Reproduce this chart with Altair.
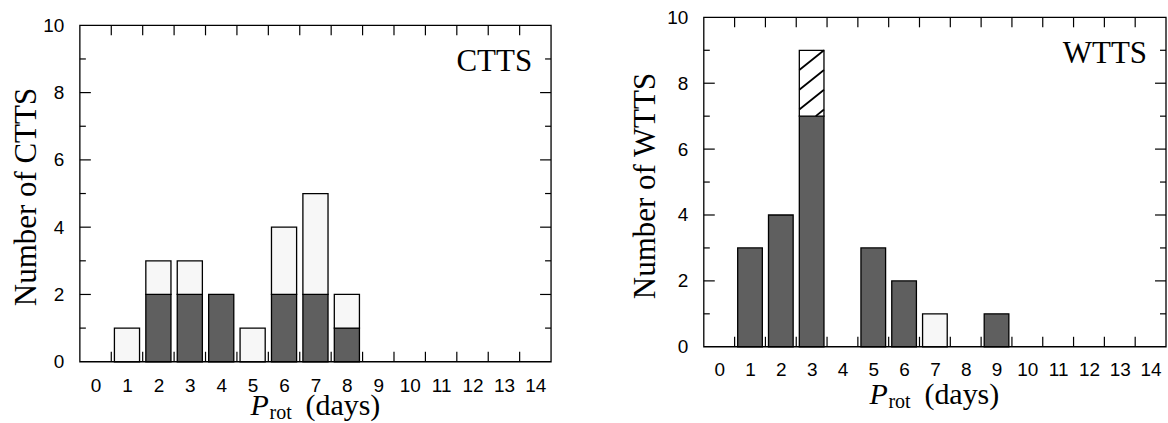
import altair as alt
import pandas as pd

# ---------------- data ----------------
ctts_bins = [1, 2, 3, 4, 5, 6, 7, 8]
ctts_dark = [0, 2, 2, 2, 0, 2, 2, 1]
ctts_light = [1, 1, 1, 0, 1, 2, 3, 1]
ctts_hatched = [0, 0, 0, 0, 0, 0, 0, 0]

wtts_bins = [1, 2, 3, 5, 6, 7, 9]
wtts_dark = [3, 4, 7, 3, 2, 0, 1]
wtts_light = [0, 0, 0, 0, 0, 1, 0]
wtts_hatched = [0, 0, 2, 0, 0, 0, 0]

x_labels = [0, 1, 2, 3, 4, 5, 6, 7, 8, 9, 10, 11, 12, 13, 14]
x_edges = [0.5, 1.5, 2.5, 3.5, 4.5, 5.5, 6.5, 7.5, 8.5, 9.5, 10.5, 11.5, 12.5, 13.5]
y_labels = [0, 2, 4, 6, 8, 10]
y_major = [2, 4, 6, 8]
y_minor = [1, 3, 5, 7, 9]

KINDS = ["dark", "light", "hatched"]
FILLS = ["#5f5f5f", "#f7f7f7", "#ffffff"]
SERIF = "Liberation Serif"
SANS = "Liberation Sans"
LABEL_SIZE = 19


def long_table(bins, dark, light, hatched):
    rows = []
    for b, d, l, h in zip(bins, dark, light, hatched):
        for order, (kind, n) in enumerate(zip(KINDS, (d, l, h))):
            rows.append({"bin": b, "kind": kind, "n": n, "ord": order})
    return pd.DataFrame(rows)


def hatch_table(bins, dark, light, hatched, half=0.4, rise=0.6, step=0.6):
    segs = []
    for b, d, l, h in zip(bins, dark, light, hatched):
        if h <= 0:
            continue
        y0, y1 = d + l, d + l + h
        r = y1
        while r > y0 + 1e-9:
            xl, yl, xr, yr = b - half, r - rise, b + half, r
            if yl < y0:
                xl = xr - (yr - y0) / rise * 2 * half
                yl = y0
            segs.append({"xa": xl, "xb": xr, "ya": yl, "yb": yr})
            r -= step
    return pd.DataFrame(segs)


def panel(bins, dark, light, hatched, name, W, H, off, lab_pad, title_dx, title_y,
          xt_dx, xt_base):
    # off: the plot frame starts `off` pixels below the panel's top
    HT = H + off
    xs = alt.Scale(domain=[-0.5, 14.5], nice=False, zero=False)
    ys = alt.Scale(domain=[0, 10], nice=False, zero=False, range=[HT, off])
    xaxis = alt.Axis(values=x_labels, ticks=False, domain=False, grid=False, title=None,
                     labelPadding=lab_pad, labelFlush=False, labelOverlap=False,
                     format="d", labelFont=SANS, labelFontSize=LABEL_SIZE,
                     labelColor="black")
    yaxis = alt.Axis(values=y_labels, ticks=False, domain=False, grid=False, title=None,
                     labelPadding=16, labelFlush=False, labelOverlap=False,
                     format="d", labelFont=SANS, labelFontSize=LABEL_SIZE,
                     labelColor="black")

    def X(f):
        return alt.X(f, scale=xs, axis=xaxis)

    def Y(f):
        return alt.Y(f, scale=ys, axis=yaxis)

    one = pd.DataFrame({"t": [name]})
    frame = alt.Chart(one).mark_rect(
        fill="transparent", stroke="black", strokeWidth=1.3
    ).encode(x=alt.value(0), x2=alt.value(W), y=alt.value(off), y2=alt.value(HT))

    edges = pd.DataFrame({"v": x_edges})
    top = alt.Chart(edges).mark_rule(color="black", strokeWidth=1.2).encode(
        x=X("v:Q"), y=alt.value(off), y2=alt.value(off + 10))
    bottom = alt.Chart(edges).mark_rule(color="black", strokeWidth=1.2).encode(
        x=X("v:Q"), y=alt.value(HT), y2=alt.value(HT - 10))
    maj = pd.DataFrame({"v": y_major})
    mino = pd.DataFrame({"v": y_minor})
    lmaj = alt.Chart(maj).mark_rule(color="black", strokeWidth=1.2).encode(
        y=Y("v:Q"), x=alt.value(0), x2=alt.value(11))
    lmin = alt.Chart(mino).mark_rule(color="black", strokeWidth=1.2).encode(
        y=Y("v:Q"), x=alt.value(0), x2=alt.value(6))
    rmaj = alt.Chart(maj).mark_rule(color="black", strokeWidth=1.2).encode(
        y=Y("v:Q"), x=alt.value(W), x2=alt.value(W - 11))
    rmin = alt.Chart(mino).mark_rule(color="black", strokeWidth=1.2).encode(
        y=Y("v:Q"), x=alt.value(W), x2=alt.value(W - 6))

    bars = alt.Chart(long_table(bins, dark, light, hatched)).transform_stack(
        stack="n", groupby=["bin"], as_=["y0", "y1"], sort=[alt.SortField("ord")]
    ).transform_filter("datum.n > 0").transform_calculate(
        xa="datum.bin - 0.4", xb="datum.bin + 0.4"
    ).mark_rect(stroke="black", strokeWidth=1.3).encode(
        x=X("xa:Q"), x2="xb:Q", y=Y("y0:Q"), y2="y1:Q",
        color=alt.Color("kind:N", scale=alt.Scale(domain=KINDS, range=FILLS), legend=None),
    )

    layers = [top, bottom, lmaj, lmin, rmaj, rmin, bars]

    hdf = hatch_table(bins, dark, light, hatched)
    if len(hdf):
        layers.append(alt.Chart(hdf).mark_rule(color="black", strokeWidth=1.8).encode(
            x=X("xa:Q"), x2="xb:Q", y=Y("ya:Q"), y2="yb:Q"))

    layers.append(frame)

    layers.append(alt.Chart(one).mark_text(
        font=SERIF, fontSize=31, align="right", baseline="alphabetic", color="black"
    ).encode(text="t:N", x=alt.value(W - 19), y=alt.value(off + 46)))

    ytitle = pd.DataFrame({"t": ["Number of " + name]})
    layers.append(alt.Chart(ytitle).mark_text(
        font=SERIF, fontSize=31, align="center", baseline="alphabetic", angle=270,
        color="black"
    ).encode(text="t:N", x=alt.value(title_dx), y=alt.value(off + title_y)))

    p = pd.DataFrame({"t": ["P"]})
    rot = pd.DataFrame({"t": ["rot"]})
    days = pd.DataFrame({"t": ["(days)"]})
    layers.append(alt.Chart(p).mark_text(
        font=SERIF, fontSize=30, fontStyle="italic", align="left",
        baseline="alphabetic", color="black"
    ).encode(text="t:N", x=alt.value(xt_dx), y=alt.value(HT + xt_base)))
    layers.append(alt.Chart(rot).mark_text(
        font=SERIF, fontSize=20, align="left", baseline="alphabetic", color="black"
    ).encode(text="t:N", x=alt.value(xt_dx + 19), y=alt.value(HT + xt_base + 4)))
    layers.append(alt.Chart(days).mark_text(
        font=SERIF, fontSize=30, align="left", baseline="alphabetic", color="black"
    ).encode(text="t:N", x=alt.value(xt_dx + 55), y=alt.value(HT + xt_base)))

    return alt.layer(*layers).properties(width=W, height=HT)


left = panel(ctts_bins, ctts_dark, ctts_light, ctts_hatched, "CTTS",
             W=472, H=337, off=8, lab_pad=15, title_dx=-44, title_y=172,
             xt_dx=171, xt_base=53)
right = panel(wtts_bins, wtts_dark, wtts_light, wtts_hatched, "WTTS",
              W=463, H=330, off=0, lab_pad=14, title_dx=-49, title_y=169,
              xt_dx=166, xt_base=57)

chart = alt.hconcat(left, right, spacing=76).properties(
    padding={"left": 10, "top": 7, "right": 0, "bottom": 0},
    background="white",
).configure_view(stroke="transparent")

chart.save("out.html", embed_options={"renderer": "svg", "actions": False})
